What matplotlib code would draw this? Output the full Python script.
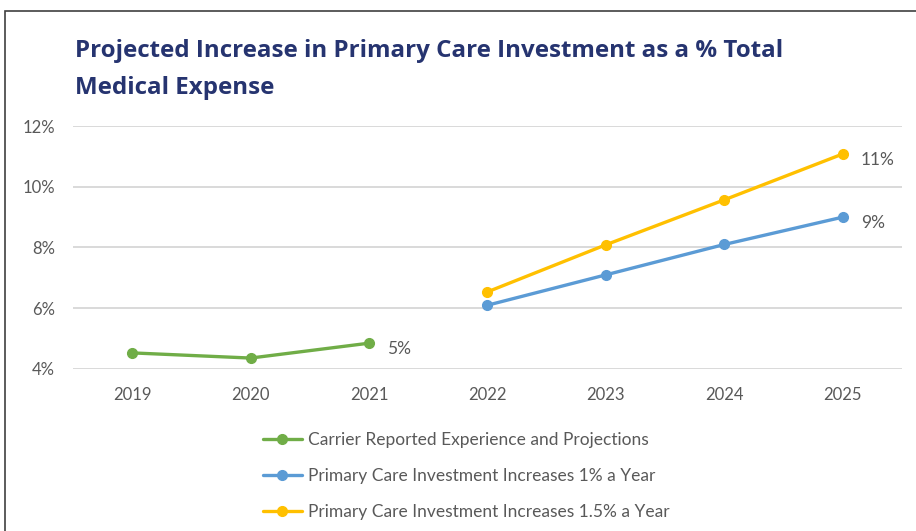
import matplotlib.pyplot as plt
import matplotlib.ticker as mticker
from matplotlib.patches import Rectangle

# Chart data
years = ['2019', '2020', '2021', '2022', '2023', '2024', '2025']
carrier = [4.53, 4.36, 4.85, None, None, None, None]
pci_1 = [None, None, None, 6.1, 7.1, 8.1, 9.0]
pci_15 = [None, None, None, 6.54, 8.09, 9.57, 11.08]
series_names = ['Carrier Reported Experience and Projections',
                'Primary Care Investment Increases 1% a Year',
                'Primary Care Investment Increases 1.5% a Year']
end_labels = ['5%', '9%', '11%']

colours = ['#70AD47', '#5B9BD5', '#FFC000']
text_grey = '#595959'
title_navy = '#263470'

plt.rcParams['font.family'] = ['Lato', 'DejaVu Sans']

fig = plt.figure(figsize=(9.16, 5.31), dpi=100)
ax = fig.add_axes([0.0797, 0.3051, 0.905, 0.4576])

x = list(range(len(years)))
handles = []
for vals, col, name, lab in zip([carrier, pci_1, pci_15], colours,
                                series_names, end_labels):
    pts = [(i, v) for i, v in zip(x, vals) if v is not None]
    xs = [p[0] for p in pts]
    ys = [p[1] for p in pts]
    h, = ax.plot(xs, ys, color=col, lw=2.4, marker='o', markersize=7,
                 solid_capstyle='round', label=name, zorder=3)
    handles.append(h)
    ax.annotate(lab, (xs[-1], ys[-1]), xytext=(13, -4),
                textcoords='offset points', ha='left', va='center',
                fontsize=12.5, color=text_grey)

ax.set_xlim(-0.5, 6.5)
ax.set_ylim(4, 12)
ax.set_xticks(x)
ax.set_xticklabels(years)
ax.yaxis.set_major_locator(mticker.MultipleLocator(2))
ax.yaxis.set_major_formatter(mticker.FuncFormatter(lambda v, p: f'{v:.0f}%'))
ax.grid(axis='y', color='#D9D9D9', lw=1.4)
ax.set_axisbelow(True)
for s in ax.spines.values():
    s.set_visible(False)
ax.tick_params(length=0, labelsize=12, colors=text_grey)
ax.tick_params(axis='x', pad=13)
ax.tick_params(axis='y', pad=13)

fig.text(0.082, 0.904, 'Projected Increase in Primary Care Investment as a % Total',
         fontsize=17.4, fontweight='bold', color=title_navy, va='center',
         family='Open Sans')
fig.text(0.082, 0.834, 'Medical Expense',
         fontsize=17.4, fontweight='bold', color=title_navy, va='center',
         family='Open Sans')

fig.legend(handles=handles, loc='upper left', bbox_to_anchor=(0.279, 0.2),
           frameon=False, fontsize=12.5, labelcolor=text_grey,
           handlelength=2.3, handletextpad=0.3, labelspacing=1.15,
           borderaxespad=0)

# outer chart frame
fig.patches.append(Rectangle((0.005, -0.01), 1.2, 0.99, transform=fig.transFigure,
                             fill=False, edgecolor='#404040', lw=1.2))

fig.savefig('out.png', dpi=100)
